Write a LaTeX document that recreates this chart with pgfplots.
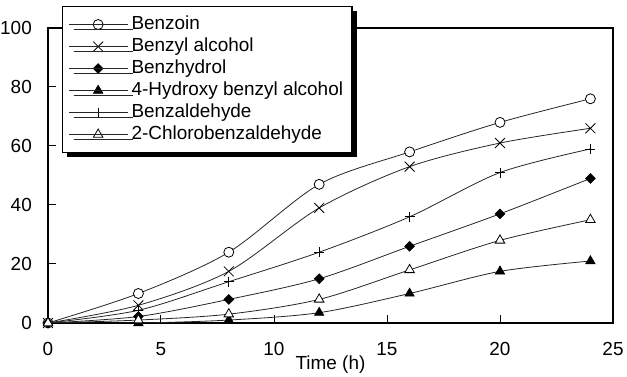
\documentclass[border=0pt]{standalone}
\usepackage{fontspec}
\setmainfont{Liberation Sans}
\usepackage{pgfplots}
\pgfplotsset{compat=1.18}
\usetikzlibrary{shadows}
\begin{document}
\begin{tikzpicture}
\begin{axis}[
 scale only axis, width=565bp, height=295bp,
 xmin=0, xmax=25, ymin=0, ymax=100,
 xtick={0,5,...,25}, ytick={0,20,...,100},
 tick align=inside, tick pos=left, major tick length=8bp,
 axis line style={line width=1.2bp},
 tick style={line width=1bp, black},
 tick label style={font=\fontsize{19}{22}\selectfont},
 label style={font=\fontsize{19}{22}\selectfont},
 /pgf/number format/assume math mode=true,
 xticklabel style={anchor=north, inner sep=0pt, yshift=-19bp},
 yticklabel style={anchor=east, inner sep=0pt, xshift=-16bp},
 xlabel={Time (h)},
 xlabel style={at={(rel axis cs:0.5,0)}, anchor=center, yshift=-42bp, inner sep=0pt},
 clip mode=individual,
 legend style={at={(rel axis cs:0.025,1.075)}, anchor=north west, draw=black, line width=1.3bp, fill=white,
   drop shadow={shadow xshift=4.5bp, shadow yshift=-4.5bp, fill=black, opacity=1},
   inner xsep=6bp, inner ysep=7bp,
   nodes={text height=14bp, text depth=4bp, inner ysep=2bp, inner xsep=3bp},
   font=\fontsize{19}{22}\selectfont},
 legend cell align=left,
 legend image code/.code={\draw[mark repeat=2, mark phase=2] plot coordinates {(2bp,0bp) (29bp,0bp) (56bp,0bp)};
   \path (0bp,0bp) -- (59bp,0bp);},
 every axis plot/.append style={line width=0.8bp, black!85, smooth},
]
\addplot[mark=*, mark size=5bp, mark options={solid, draw=black, fill=white, line width=0.8bp}] coordinates {(0,0)(4,10)(8,24)(12,47)(16,58)(20,68)(24,76)};
\addlegendentry{Benzoin}
\addplot[mark=x, mark size=7bp, mark options={solid, draw=black, line width=0.8bp}] coordinates {(0,0)(4,6)(8,17.5)(12,39)(16,53)(20,61)(24,66)};
\addlegendentry{Benzyl alcohol}
\addplot[mark=square*, mark size=3.5bp, mark options={solid, draw=black, fill=black, rotate=45, line width=0.5bp}] coordinates {(0,0)(4,2.2)(8,8)(12,15)(16,26)(20,37)(24,49)};
\addlegendentry{Benzhydrol}
\addplot[mark=triangle*, mark size=5.5bp, mark options={solid, draw=black, fill=black, line width=0.5bp}] coordinates {(0,0)(4,0)(8,1)(12,3.5)(16,10)(20,17.5)(24,21)};
\addlegendentry{4-Hydroxy benzyl alcohol}
\addplot[mark=+, mark size=5bp, mark options={solid, draw=black, line width=0.8bp}] coordinates {(0,0)(4,4.3)(8,14)(12,24)(16,36)(20,51)(24,59)};
\addlegendentry{Benzaldehyde}
\addplot[mark=triangle*, mark size=5.5bp, mark options={solid, draw=black, fill=white, line width=0.8bp}] coordinates {(0,0)(4,1)(8,3)(12,8)(16,18)(20,28)(24,35)};
\addlegendentry{2-Chlorobenzaldehyde}
\end{axis}
\pgfresetboundingbox
\path (current axis.south west) ++(-48bp,-54bp) rectangle ++(627bp,377bp);
\end{tikzpicture}
\end{document}
